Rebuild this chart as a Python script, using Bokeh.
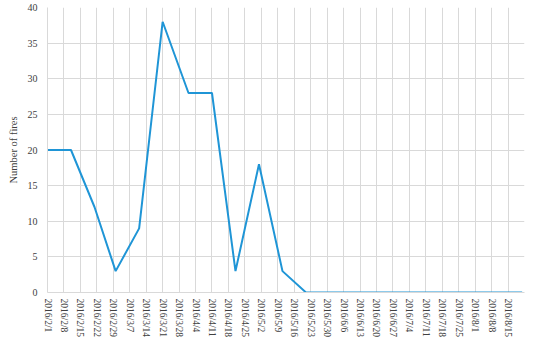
from datetime import datetime
from bokeh.plotting import figure
from bokeh.models import Range1d, FixedTicker, ColumnDataSource, BoxAnnotation
from bokeh.embed import file_html
from bokeh.resources import INLINE

# ---- data ----
dates = ["2016/2/1", "2016/2/11", "2016/2/21", "2016/3/1", "2016/3/11", "2016/3/21",
         "2016/4/1", "2016/4/11", "2016/4/21", "2016/5/1", "2016/5/11", "2016/5/21",
         "2016/6/1", "2016/6/11", "2016/6/21", "2016/7/1", "2016/7/11", "2016/7/21",
         "2016/8/1", "2016/8/11", "2016/8/21"]
fires = [20, 20, 12, 3, 9, 38, 28, 28, 3, 18, 3, 0,
         0, 0, 0, 0, 0, 0, 0, 0, 0]
tick_labels = ["2016/2/1", "2016/2/8", "2016/2/15", "2016/2/22", "2016/2/29", "2016/3/7",
               "2016/3/14", "2016/3/21", "2016/3/28", "2016/4/4", "2016/4/11", "2016/4/18",
               "2016/4/25", "2016/5/2", "2016/5/9", "2016/5/16", "2016/5/23", "2016/5/30",
               "2016/6/6", "2016/6/13", "2016/6/20", "2016/6/27", "2016/7/4", "2016/7/11",
               "2016/7/18", "2016/7/25", "2016/8/1", "2016/8/8", "2016/8/15"]
axis_start = "2016/2/1"
axis_end = "2016/8/22"
y_ticks = [0, 5, 10, 15, 20, 25, 30, 35, 40]

def parse(s):
    return datetime.strptime(s, "%Y/%m/%d")

t0 = parse(axis_start)
def days(s):
    return (parse(s) - t0).days

x_days = [days(d) for d in dates]
tick_pos = [days(t) for t in tick_labels]
end_pos = days(axis_end)

src = ColumnDataSource(dict(x=x_days, y=fires))

W, H = 534, 340
p = figure(width=W, height=H, output_backend="svg", toolbar_location=None,
           x_range=Range1d(0, end_pos), y_range=Range1d(0, 40),
           min_border_left=47, min_border_right=10, min_border_top=7, min_border_bottom=46,
           background_fill_color="white", border_fill_color="white")
p.outline_line_color = None

# chart-area frame
frame = BoxAnnotation(left=0.5, right=W - 0.5, bottom=H - 0.5, top=0.5,
                      left_units="canvas", right_units="canvas",
                      bottom_units="canvas", top_units="canvas",
                      fill_alpha=0, line_color="#d4d4d4", line_width=1,
                      border_radius=4, level="overlay", editable=False)
p.add_layout(frame)

p.line("x", "y", source=src, line_color="#1f95d6", line_width=2)

serif = "Liberation Serif"
text_col = "#404040"
grid_col = "#d9d9d9"

# x axis
p.xaxis.ticker = FixedTicker(ticks=tick_pos + [end_pos])
overrides = {pos: lab for pos, lab in zip(tick_pos, tick_labels)}
overrides[end_pos] = ""
p.xaxis.major_label_overrides = overrides
p.xaxis.major_label_orientation = "vertical"
p.xaxis.major_label_text_font = serif
p.xaxis.major_label_text_font_size = "9.5px"
p.xaxis.major_label_text_color = text_col
p.xaxis.major_label_standoff = 6
p.xaxis.major_tick_out = 0
p.xaxis.major_tick_in = 0
p.xaxis.minor_tick_out = 0
p.xaxis.minor_tick_in = 0
p.xaxis.axis_line_color = grid_col

# y axis
p.yaxis.ticker = FixedTicker(ticks=y_ticks)
p.yaxis.axis_label = "Number of fires"
p.yaxis.axis_label_text_font = serif
p.yaxis.axis_label_text_font_style = "normal"
p.yaxis.axis_label_text_font_size = "10.5px"
p.yaxis.axis_label_text_color = text_col
p.yaxis.axis_label_standoff = 6
p.yaxis.major_label_text_font = serif
p.yaxis.major_label_text_font_size = "10px"
p.yaxis.major_label_text_color = text_col
p.yaxis.major_label_standoff = 10
p.yaxis.major_tick_out = 0
p.yaxis.major_tick_in = 0
p.yaxis.minor_tick_out = 0
p.yaxis.minor_tick_in = 0
p.yaxis.axis_line_color = grid_col

p.xgrid.grid_line_color = grid_col
p.ygrid.grid_line_color = grid_col
p.xgrid.grid_line_width = 1
p.ygrid.grid_line_width = 1

open("out.html", "w").write(file_html(p, INLINE))
